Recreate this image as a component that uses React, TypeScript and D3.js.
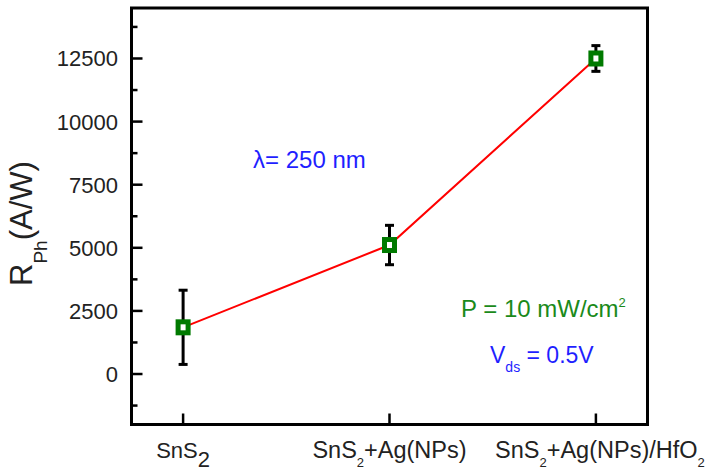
import React from "react";
import * as d3 from "d3";

const categories = ["SnS2", "SnS2+Ag(NPs)", "SnS2+Ag(NPs)/HfO2"];
const xPositions = [1, 2, 3];
const responsivity = [1850, 5110, 12500];
const errors = [1470, 780, 510];
const yMajorTicks = [0, 2500, 5000, 7500, 10000, 12500];
const yMinorTicks = [-1250, 1250, 3750, 6250, 8750, 11250, 13750];

const W = 709;
const H = 473;
const FONT = "'Liberation Sans', Arial, sans-serif";

export default function App() {
  const x = d3.scaleLinear().domain([0.75, 3.25]).range([131.5, 647.5]);
  const y = d3.scaleLinear().domain([-2000, 14500]).range([424.5, 8]);
  const line = d3
    .line<number>()
    .x((_, i) => x(xPositions[i]))
    .y((d) => y(d));
  const [x0, x1] = x.range();
  const [yb, yt] = y.range();

  return (
    <svg
      width={W}
      height={H}
      style={{ position: "absolute", left: 0, top: 0, background: "#fff" }}
      fontFamily={FONT}
    >
      <path d={line(responsivity) || ""} fill="none" stroke="#ff0000" strokeWidth={2} />

      {responsivity.map((v, i) => {
        const cx = x(xPositions[i]);
        return (
          <g key={"e" + i} stroke="#000" strokeWidth={3}>
            <line x1={cx} x2={cx} y1={y(v + errors[i])} y2={y(v - errors[i])} />
            <line x1={cx - 4.5} x2={cx + 4.5} y1={y(v + errors[i])} y2={y(v + errors[i])} />
            <line x1={cx - 4.5} x2={cx + 4.5} y1={y(v - errors[i])} y2={y(v - errors[i])} />
          </g>
        );
      })}

      {responsivity.map((v, i) => (
        <rect
          key={"m" + i}
          x={x(xPositions[i]) - 5}
          y={y(v) - 5.5}
          width={10}
          height={11}
          fill="#fff"
          stroke="#007a00"
          strokeWidth={5}
        />
      ))}

      <rect
        x={x0}
        y={yt}
        width={x1 - x0}
        height={yb - yt}
        fill="none"
        stroke="#000"
        strokeWidth={3}
      />

      {yMajorTicks.map((t) => (
        <g key={"yt" + t}>
          <line x1={x0} x2={x0 + 11} y1={y(t)} y2={y(t)} stroke="#000" strokeWidth={2.5} />
          <text
            x={118}
            y={y(t)}
            dy="0.36em"
            textAnchor="end"
            fontSize={22}
            fill="#222"
          >
            {t}
          </text>
        </g>
      ))}
      {yMinorTicks.map((t) => (
        <line key={"ym" + t} x1={x0} x2={x0 + 6} y1={y(t)} y2={y(t)} stroke="#000" strokeWidth={2.5} />
      ))}

      {xPositions.map((p) => (
        <line key={"xt" + p} x1={x(p)} x2={x(p)} y1={yb} y2={yb - 11} stroke="#000" strokeWidth={2.5} />
      ))}

      <text x={x(1)} y={458} textAnchor="middle" fontSize={22} fill="#222">
        <tspan>SnS</tspan>
        <tspan dy={9}>2</tspan>
      </text>
      <text x={x(2)} y={458} textAnchor="middle" fontSize={23.5} fill="#222">
        <tspan>SnS</tspan>
        <tspan fontSize={13} dy={9}>2</tspan>
        <tspan dy={-9}>+Ag(NPs)</tspan>
      </text>
      <text x={x(3) + 4} y={458} textAnchor="middle" fontSize={23.5} fill="#222">
        <tspan>SnS</tspan>
        <tspan fontSize={13} dy={9}>2</tspan>
        <tspan dy={-9}>+Ag(NPs)/HfO</tspan>
        <tspan fontSize={13} dy={9}>2</tspan>
      </text>

      <text
        transform={`translate(32, 286) rotate(-90)`}
        fontSize={31}
        fill="#222"
      >
        <tspan>R</tspan>
        <tspan fontSize={19} dy={15}>Ph</tspan>
        <tspan dy={-15}>(A/W)</tspan>
      </text>

      <text x={253} y={168} fontSize={24} fill="#1f1fff">
        λ= 250 nm
      </text>
      <text x={461} y={317} fontSize={24} fill="#1a8a1a">
        <tspan>P = 10 mW/cm</tspan>
        <tspan fontSize={13} dy={-10}>2</tspan>
      </text>
      <text x={490} y={363} fontSize={23} fill="#1f1fff">
        <tspan>V</tspan>
        <tspan fontSize={14} dy={9}>ds</tspan>
        <tspan dy={-9}> = 0.5V</tspan>
      </text>
    </svg>
  );
}
